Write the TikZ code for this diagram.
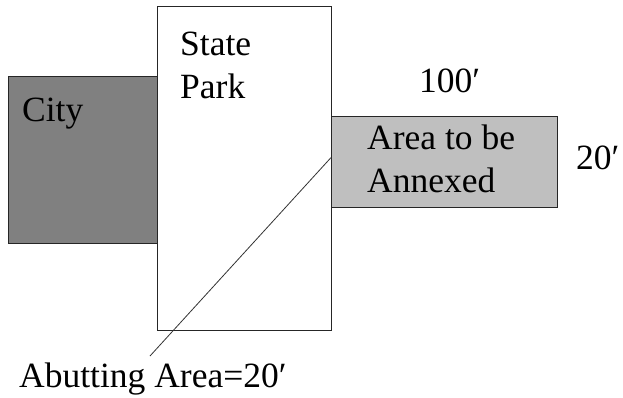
\documentclass[tikz,border=0pt]{standalone}
\usepackage{fontspec}
\setmainfont{Liberation Serif}
\usetikzlibrary{positioning, calc}

\tikzset{
    plot/.style={draw=black!85, line width=1.4pt, inner sep=0pt, anchor=north west},
    lbl/.style={inner sep=0pt, anchor=base west, font=\fontsize{35.5}{43}\selectfont, align=left}
}

\begin{document}
\begin{tikzpicture}[x=1pt, y=-1pt]
    \useasboundingbox (0,0) rectangle (623,398);

    % parcels
    \node[plot, fill=black!50, minimum width=149pt, minimum height=167pt] (city) at (8,76) {};
    \node[plot, fill=white, minimum width=174pt, minimum height=324pt] (park) at (157,6) {};
    \node[plot, fill=black!25, minimum width=226pt, minimum height=91pt] (annex) at (331,116) {};

    % labels (base of a two-line label = its last line)
    \node[lbl] (cityname) at (22,122) {City};
    \node[lbl] (parkname) at (180,99) {State\\Park};
    \node[lbl] (annexname) at (367,193) {Area to be\\Annexed};
    \node[lbl] (len) at (419,93) {100′};
    \node[lbl] (wid) at (576,170) {20′};
    \node[lbl] (abut) at (19,387) {Abutting Area=20′};

    % pointer to the abutting side
    \coordinate (hit) at ($(annex.north west)!0.45!(annex.south west)$);
    \coordinate (tail) at (150,356);
    \draw[black!80, line width=0.8pt] (hit) -- (tail);
\end{tikzpicture}
\end{document}
